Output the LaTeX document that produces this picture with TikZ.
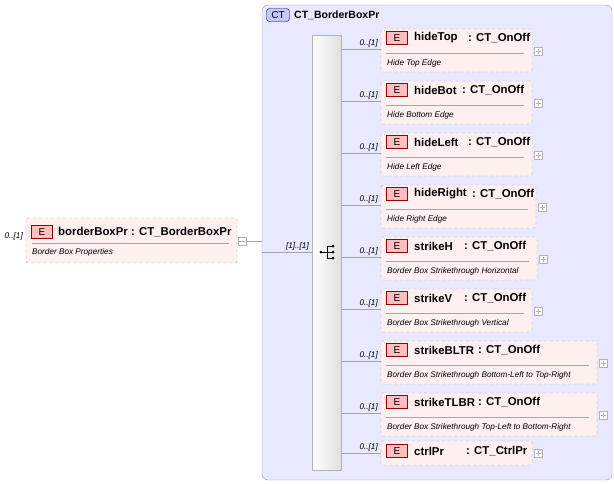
\documentclass[tikz,border=0pt]{standalone}
\usepackage{fontspec}
\setmainfont{Liberation Sans}
\begin{document}
\begin{tikzpicture}[x=1pt,y=-1pt,
  elbox/.style={draw=gray!70,dashed,fill=red!6,rounded corners=1.5},
  etag/.style={draw=red!60!black,fill=red!25,minimum width=21pt,minimum height=13pt,inner sep=0,font=\fontsize{10}{10}\selectfont},
  ttl/.style={anchor=west,inner sep=0,font=\bfseries\fontsize{11.4}{12}\selectfont},
  dsc/.style={anchor=west,inner sep=0,font=\itshape\fontsize{8.2}{9}\selectfont},
  card/.style={anchor=south east,inner sep=0,font=\itshape\fontsize{8.2}{9}\selectfont},
  pbox/.style={draw=gray!60,fill=white,minimum size=8pt,inner sep=0},
  conn/.style={draw=gray!70,line width=0.6pt}]
\useasboundingbox (0,0) rectangle (614,483);
% outer CT
\draw[draw=gray!60!blue!60,fill=blue!9,rounded corners=6] (262,5) rectangle (612,480);
\node[draw=blue!40!black,fill=blue!22,rounded corners=3,minimum width=23pt,minimum height=13pt,inner sep=0,font=\fontsize{10}{10}\selectfont] (cttag) at (278,15) {CT};
\node[anchor=west,inner sep=0,font=\bfseries\fontsize{10.5}{11}\selectfont] (ctname) at (294,15) {CT\_BorderBoxPr};
% bar
\shade[left color=white,right color=gray!25,draw=gray!60] (312,35) rectangle (341,470);
\node (bar) at (326.5,252) {};
% sequence icon
\fill (321,252) circle (1.5);
\draw[line width=0.7pt] (321,252)--(327,252) (327,246)--(327,258) (327,246)--(333,246) (327,252)--(333,252) (327,258)--(333,258);
\foreach \yy in {246,252,258} \fill (333,\yy) circle (1.5);
% root element
\draw[elbox] (26,218) rectangle (237,263);
\node[etag] (re) at (42,232) {E};
\node[ttl] (rt) at (58,232) {borderBoxPr : CT\_BorderBoxPr};
\draw[gray!70] (32,243) -- (229,243);
\node[dsc] (rd) at (32,252) {Border Box Properties};
\node[card,anchor=east] (rc) at (23,236) {0..[1]};
\node[pbox] (rm) at (242,241) {};
\draw[gray!60] (239,241)--(245,241);
\coordinate (j1) at (262,241);
\coordinate (j2) at (262,252);
\draw[conn] (rm.east) -- (j1);
\draw[conn] (j2) -- (312,252);
\node[card] at (309,250) {[1]..[1]};
% children
\foreach \i/\nm/\ty/\cx/\w/\ds in {
 0/hideTop/CT\_OnOff/468/532/Hide Top Edge,
 1/hideBot/CT\_OnOff/462/532/Hide Bottom Edge,
 2/hideLeft/CT\_OnOff/468/532/Hide Left Edge,
 3/hideRight/CT\_OnOff/472/536/Hide Right Edge,
 4/strikeH/CT\_OnOff/464/537/Border Box Strikethrough Horizontal,
 5/strikeV/CT\_OnOff/464/532/Border Box Strikethrough Vertical,
 6/strikeBLTR/CT\_OnOff/478/597/Border Box Strikethrough Bottom-Left to Top-Right,
 7/strikeTLBR/CT\_OnOff/478/597/Border Box Strikethrough Top-Left to Bottom-Right}{
 \pgfmathsetmacro{\t}{29+52*\i}
 \draw[elbox] (381,\t) rectangle (\w,\t+43);
 \node[etag] (e\i) at (397,\t+9) {E};
 \node[ttl] (n\i) at (414,\t+9) {\nm};
 \node[ttl] (ty\i) at (\cx,\t+9) {: \ty};
 \draw[gray!70] (386,\t+24) -- (\w-8,\t+24);
 \node[dsc] (d\i) at (387,\t+34) {\ds};
 \node[pbox] (p\i) at (\w+6,\t+22) {};
 \draw[gray!60] (\w+3.5,\t+22)--(\w+8.5,\t+22) (\w+6,\t+19.5)--(\w+6,\t+24.5);
 \coordinate (c\i) at (381,\t+20);
 \draw[conn] (341,\t+20) -- (c\i);
 \node[card] at (378,\t+18) {0..[1]};
}
% ctrlPr
\draw[elbox] (381,441) rectangle (532,465);
\node[etag] (e8) at (397,451) {E};
\node[ttl] (n8) at (414,451) {ctrlPr};
\node[ttl] (ty8) at (466,451) {: CT\_CtrlPr};
\node[pbox] (p8) at (538,453) {};
\draw[gray!60] (535.5,453)--(540.5,453) (538,450.5)--(538,455.5);
\coordinate (c8) at (381,453);
\draw[conn] (341,453) -- (c8);
\node[card] at (378,451) {0..[1]};
\end{tikzpicture}
\end{document}
